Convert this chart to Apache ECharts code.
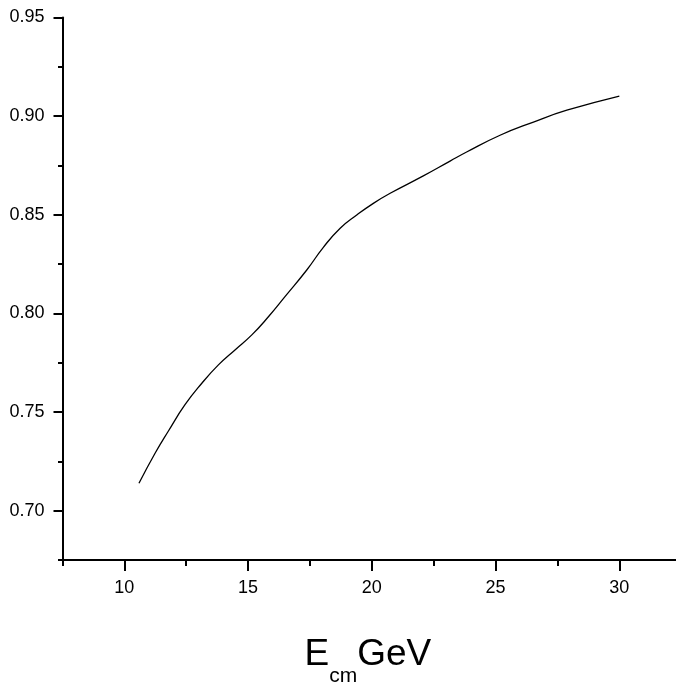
<!DOCTYPE html>
<html>
<head>
<meta charset="utf-8">
<script src="https://cdn.jsdelivr.net/npm/echarts@6/dist/echarts.min.js"></script>
<style>
html,body{margin:0;padding:0;background:#fff;}
#chart{width:676px;height:685px;}
</style>
</head>
<body>
<div id="chart"></div>
<script>
// Data
var energy = [10.59, 11.24, 11.78, 12.45, 13.13, 13.80, 14.47, 15.15, 15.82, 16.49, 17.37, 18.04, 18.72, 19.39, 20.06, 20.74, 22.08, 23.16, 23.83, 25.18, 26.53, 27.88, 30.0];
var ratio  = [0.7139, 0.7291, 0.7404, 0.7537, 0.7646, 0.7739, 0.7815, 0.7891, 0.7983, 0.8085, 0.8220, 0.8335, 0.8432, 0.8499, 0.8558, 0.8609, 0.8697, 0.8772, 0.8818, 0.8903, 0.8970, 0.9030, 0.9102];

var xMajorTicks = [10, 15, 20, 25, 30];
var xMinorTicks = [7.5, 12.5, 17.5, 22.5, 27.5, 32.5];
var yMajorTicks = [0.70, 0.75, 0.80, 0.85, 0.90, 0.95];
var yMinorTicks = [0.675, 0.725, 0.775, 0.825, 0.875, 0.925];

var points = energy.map(function (x, i) { return [x, ratio[i]]; });

var font = 'Liberation Sans, Arial, sans-serif';
var chart = echarts.init(document.getElementById('chart'));
chart.setOption({
  animation: false,
  backgroundColor: '#fff',
  grid: { left: 62.5, right: -5.2, top: 17.5, bottom: 125, containLabel: false, outerBoundsMode: 'none' },
  xAxis: [{
    type: 'value', min: 7.5, max: 32.5, position: 'bottom',
    splitLine: { show: false },
    axisLine: { show: true, onZero: false, lineStyle: { color: '#000', width: 2 } },
    axisTick: { show: true, customValues: xMajorTicks, length: 11, lineStyle: { color: '#000', width: 2 } },
    axisLabel: { show: true, customValues: xMajorTicks, margin: 19, color: '#000', fontSize: 18, fontFamily: font,
      formatter: function (v) { return String(Math.round(v)); } },
    name: '{e|E}{sub|cm}{g|GeV}',
    nameLocation: 'middle',
    nameGap: 76,
    nameTextStyle: {
      rich: {
        e: { fontSize: 37, fontFamily: font, color: '#000', lineHeight: 37, verticalAlign: 'top' },
        sub: { fontSize: 21, fontFamily: font, color: '#000', lineHeight: 21, padding: [44, 0, 0, 0] },
        g: { fontSize: 37, fontFamily: font, color: '#000', lineHeight: 37, verticalAlign: 'top', padding: [0, 8, 0, 0] }
      }
    }
  }, {
    type: 'value', min: 7.5, max: 32.5, position: 'bottom',
    splitLine: { show: false },
    axisLine: { show: false, onZero: false },
    axisTick: { show: true, customValues: xMinorTicks, length: 6, lineStyle: { color: '#000', width: 2 } },
    axisLabel: { show: false }
  }],
  yAxis: [{
    type: 'value', min: 0.675, max: 0.95, position: 'left',
    splitLine: { show: false },
    axisLine: { show: true, onZero: false, lineStyle: { color: '#000', width: 2 } },
    axisTick: { show: true, customValues: yMajorTicks, length: 9, lineStyle: { color: '#000', width: 2 } },
    axisLabel: { show: true, customValues: yMajorTicks, margin: 18, color: '#000', fontSize: 18, fontFamily: font,
      formatter: function (v) { return v.toFixed(2); } }
  }, {
    type: 'value', min: 0.675, max: 0.95, position: 'left', offset: 0,
    splitLine: { show: false },
    axisLine: { show: false, onZero: false },
    axisTick: { show: true, customValues: yMinorTicks, length: 4.5, lineStyle: { color: '#000', width: 2 } },
    axisLabel: { show: false }
  }],
  series: [{
    type: 'line',
    xAxisIndex: 0, yAxisIndex: 0,
    data: points,
    smooth: 0.5,
    showSymbol: false,
    lineStyle: { color: '#000', width: 1.3 }
  }]
});
</script>
</body>
</html>
